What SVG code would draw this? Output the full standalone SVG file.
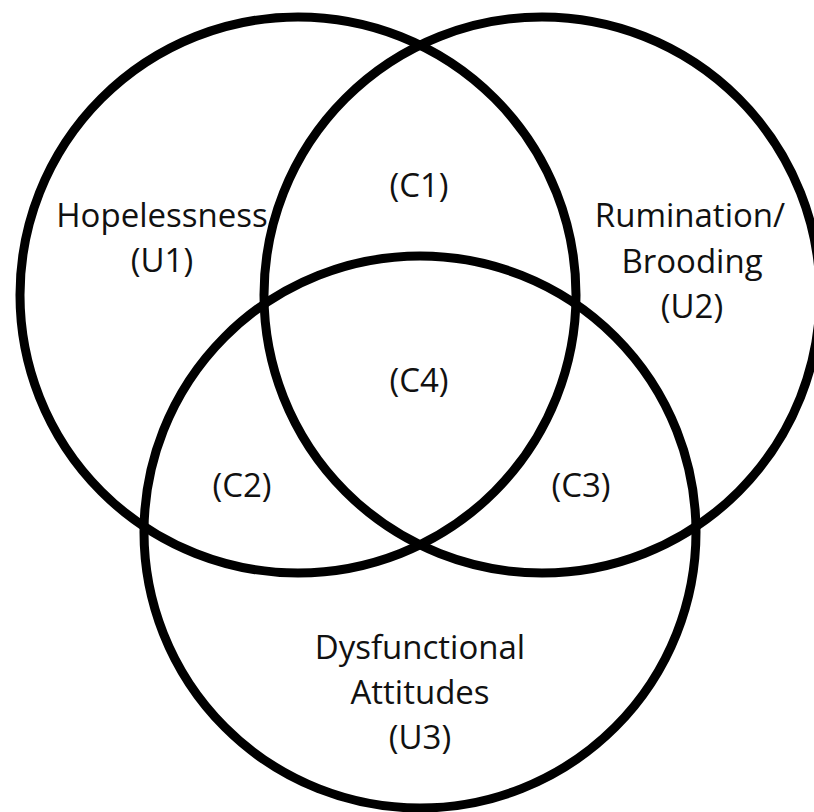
<svg xmlns="http://www.w3.org/2000/svg" width="814" height="812" viewBox="0 0 814 812">
<style>
.c{fill:none;stroke:#000;stroke-width:9}
text{font-family:"Open Sans","Liberation Sans",sans-serif;font-size:33px;fill:#111;text-anchor:middle}
</style>
<rect width="814" height="812" fill="#fff"/>
<g id="circle-u1"><circle class="c" cx="298" cy="295" r="278"/></g>
<g id="circle-u2"><circle class="c" cx="542" cy="295" r="278"/></g>
<g id="circle-u3"><circle class="c" cx="420" cy="532" r="276"/></g>
<g id="label-u1"><text x="162" y="227">Hopelessness</text><text x="162" y="272">(U1)</text></g>
<g id="label-u2"><text x="690" y="227">Rumination/</text><text x="692" y="273">Brooding</text><text x="692" y="318">(U2)</text></g>
<g id="label-u3"><text x="420" y="659">Dysfunctional</text><text x="420" y="704">Attitudes</text><text x="420" y="749">(U3)</text></g>
<g id="label-c1"><text x="419" y="197">(C1)</text></g>
<g id="label-c4"><text x="419" y="392">(C4)</text></g>
<g id="label-c2"><text x="242" y="497">(C2)</text></g>
<g id="label-c3"><text x="581" y="497">(C3)</text></g>
</svg>
